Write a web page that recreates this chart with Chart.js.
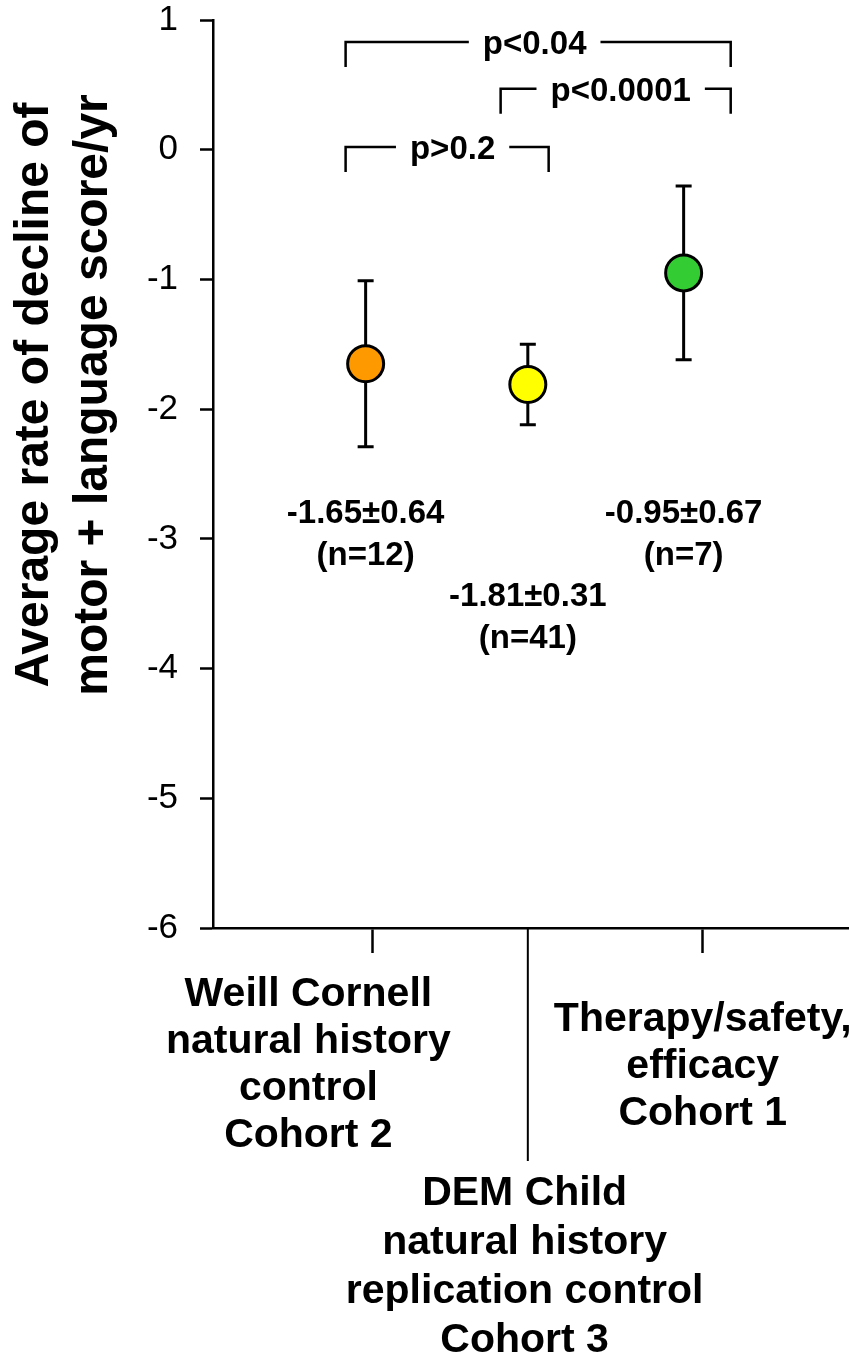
<!DOCTYPE html>
<html lang="en">

<head>
    <meta charset="UTF-8">
    <title>Rate of decline by cohort</title>
    <script src="https://cdn.jsdelivr.net/npm/chart.js"></script>
    <style>
        body {
            margin: 0;
            background: #fff;
        }

        canvas {
            display: block;
        }
    </style>
</head>

<body>
    <canvas id="declineChart" width="849" height="1357"></canvas>

    <script>
        // cohorts, left to right
        const cohortLines = [
            ['Weill Cornell', 'natural history', 'control', 'Cohort 2'],
            ['DEM Child', 'natural history', 'replication control', 'Cohort 3'],
            ['Therapy/safety,', 'efficacy', 'Cohort 1']
        ];
        const cohortX = [1, 2.02, 3];
        const meanRate = [-1.65, -1.81, -0.95];
        const sdRate = [0.64, 0.31, 0.67];
        const nPatients = [12, 41, 7];
        const pointColors = ['#FF9900', '#FFFF00', '#33CC33'];

        // y axis
        const yMin = -6;
        const yMax = 1;
        // x tick marks (on the axis below the points)
        const xTickAt = [1.04, 3.12];

        // significance brackets: [from, to], height, label
        const pLabels = ['p<0.04', 'p<0.0001', 'p>0.2'];
        const pFrom = [0.874, 1.849, 0.874];
        const pTo = [3.296, 3.296, 2.151];
        const pLevel = [0.83, 0.47, 0.02];
        const pTextX = [2.063, 2.604, 1.547];

        const FONT = '"Liberation Sans", Arial, Helvetica, sans-serif';

        const annotate = {
            id: 'annotate',
            beforeDatasetsDraw(chart) {
                // error bars under the dots
                const ctx = chart.ctx;
                const xs = chart.scales.x, ys = chart.scales.y;
                ctx.save();
                ctx.strokeStyle = '#000';
                ctx.lineWidth = 3;
                cohortX.forEach((x, i) => {
                    const px = xs.getPixelForValue(x);
                    const top = ys.getPixelForValue(meanRate[i] + sdRate[i]);
                    const bot = ys.getPixelForValue(meanRate[i] - sdRate[i]);
                    ctx.beginPath();
                    ctx.moveTo(px, top); ctx.lineTo(px, bot);
                    ctx.moveTo(px - 8, top); ctx.lineTo(px + 8, top);
                    ctx.moveTo(px - 8, bot); ctx.lineTo(px + 8, bot);
                    ctx.stroke();
                });
                ctx.restore();
            },
            afterDraw(chart) {
                const ctx = chart.ctx;
                const xs = chart.scales.x, ys = chart.scales.y;
                const area = chart.chartArea;
                ctx.save();
                ctx.fillStyle = '#000';
                ctx.strokeStyle = '#000';
                ctx.lineWidth = 2.5;

                // value labels below each dot
                ctx.font = 'bold 33px ' + FONT;
                ctx.textAlign = 'center';
                ctx.textBaseline = 'middle';
                const labelY = [-2.81, -3.45, -2.81];
                cohortX.forEach((x, i) => {
                    const px = xs.getPixelForValue(x);
                    const py = ys.getPixelForValue(labelY[i]);
                    ctx.fillText(meanRate[i].toFixed(2) + '\u00b1' + sdRate[i].toFixed(2), px, py);
                    ctx.fillText('(n=' + nPatients[i] + ')', px, py + 42);
                });

                // p-value brackets
                ctx.font = 'bold 33px ' + FONT;
                ctx.textBaseline = 'alphabetic';
                pLabels.forEach((label, i) => {
                    const x1 = xs.getPixelForValue(pFrom[i]);
                    const x2 = xs.getPixelForValue(pTo[i]);
                    const y = ys.getPixelForValue(pLevel[i]);
                    const tx = xs.getPixelForValue(pTextX[i]);
                    const half = ctx.measureText(label).width / 2 + 14;
                    ctx.beginPath();
                    ctx.moveTo(x1, y + 25); ctx.lineTo(x1, y); ctx.lineTo(tx - half, y);
                    ctx.moveTo(tx + half, y); ctx.lineTo(x2, y); ctx.lineTo(x2, y + 25);
                    ctx.stroke();
                    ctx.fillText(label, tx, y + 12);
                });

                // long divider between cohort labels
                const dx = xs.getPixelForValue(cohortX[1]);
                ctx.lineWidth = 2;
                ctx.beginPath();
                ctx.moveTo(dx, area.bottom);
                ctx.lineTo(dx, area.bottom + 233);
                ctx.stroke();

                // cohort labels
                ctx.font = 'bold 41px ' + FONT;
                ctx.textBaseline = 'middle';
                const labelCx = [0.64, 2.0, 3.12];
                const firstLine = [area.bottom + 67, area.bottom + 266, area.bottom + 92];
                const lineGap = [47, 49, 47];
                cohortLines.forEach((lines, i) => {
                    const px = xs.getPixelForValue(labelCx[i]);
                    lines.forEach((t, k) => ctx.fillText(t, px, firstLine[i] + k * lineGap[i]));
                });

                // y axis title, two rotated lines
                ctx.font = 'bold 48px ' + FONT;
                ctx.textBaseline = 'alphabetic';
                [['Average rate of decline of', 48], ['motor + language score/yr', 107]].forEach(([t, bx]) => {
                    ctx.save();
                    ctx.translate(bx, 395);
                    ctx.rotate(-Math.PI / 2);
                    ctx.fillText(t, 0, 0);
                    ctx.restore();
                });
                ctx.restore();
            }
        };

        const ctx = document.getElementById('declineChart').getContext('2d');
        const declineChart = new Chart(ctx, {
            type: 'scatter',
            data: {
                datasets: [{
                    data: cohortX.map((x, i) => ({ x: x, y: meanRate[i] })),
                    pointRadius: 18,
                    pointHoverRadius: 18,
                    pointBackgroundColor: pointColors,
                    pointBorderColor: '#000',
                    pointBorderWidth: 3,
                    showLine: false
                }]
            },
            options: {
                responsive: false,
                animation: false,
                layout: { autoPadding: false, padding: 0 },
                plugins: {
                    legend: { display: false },
                    tooltip: { enabled: false }
                },
                scales: {
                    x: {
                        type: 'linear',
                        min: 0.04,
                        max: 4.04,
                        afterBuildTicks(scale) {
                            scale.ticks = xTickAt.map(v => ({ value: v }));
                        },
                        afterFit(scale) { scale.height = 429; },
                        ticks: { callback: () => '' },
                        grid: {
                            drawOnChartArea: false,
                            tickLength: 25,
                            tickWidth: 2.5,
                            tickColor: '#000'
                        },
                        border: { color: '#000', width: 2.5 }
                    },
                    y: {
                        min: yMin,
                        max: yMax,
                        afterFit(scale) {
                            scale.width = 213;
                            // keep the plot 20px from the top edge
                            scale.paddingTop = 20;
                            scale.paddingBottom = 0;
                        },
                        ticks: {
                            stepSize: 1,
                            color: '#000',
                            padding: 22,
                            font: { family: FONT, size: 35 }
                        },
                        grid: {
                            drawOnChartArea: false,
                            tickLength: 13,
                            tickWidth: 2.5,
                            tickColor: '#000'
                        },
                        border: { color: '#000', width: 2.5 }
                    }
                }
            },
            plugins: [annotate]
        });
    </script>
</body>

</html>
